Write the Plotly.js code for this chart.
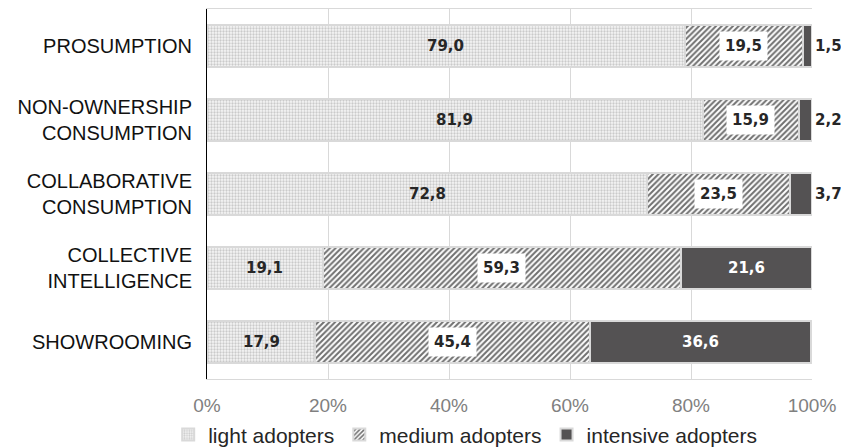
<!DOCTYPE html>
<html>
<head>
<meta charset="utf-8">
<script src="https://cdn.plot.ly/plotly-3.0.1.min.js"></script>
<style>html,body{margin:0;padding:0;background:#fff;}#chart{width:841px;height:447px;}</style>
</head>
<body>
<div id="chart"></div>
<script>
const categories = ["PROSUMPTION", "NON-OWNERSHIP<br>CONSUMPTION", "COLLABORATIVE<br>CONSUMPTION", "COLLECTIVE<br>INTELLIGENCE", "SHOWROOMING"];
const light = [79.0, 81.9, 72.8, 19.1, 17.9];
const medium = [19.5, 15.9, 23.5, 59.3, 45.4];
const intensive = [1.5, 2.2, 3.7, 21.6, 36.6];
const seriesNames = ["light adopters", "medium adopters", "intensive adopters"];
const tickVals = [0, 20, 40, 60, 80, 100];
const tickText = ["0%", "20%", "40%", "60%", "80%", "100%"];

const fmt = v => v.toFixed(1).replace(".", ",");
const border = {color: "#d9d9d9", width: 2};

const traces = [
  {
    type: "bar", orientation: "h", name: seriesNames[0],
    y: categories, x: light,
    marker: {color: "#f0f0f0", line: border,
      pattern: {shape: ".", size: 3, solidity: 0.45, fgcolor: "#cacaca", bgcolor: "#f6f6f6", fillmode: "replace"}},
    hoverinfo: "skip"
  },
  {
    type: "bar", orientation: "h", name: seriesNames[1],
    y: categories, x: medium,
    marker: {color: "#ffffff", line: border,
      pattern: {shape: "/", size: 4, solidity: 0.5, fgcolor: "#707070", bgcolor: "#ffffff", fillmode: "replace"}},
    hoverinfo: "skip"
  },
  {
    type: "bar", orientation: "h", name: seriesNames[2],
    y: categories, x: intensive,
    marker: {color: "#545253", line: border},
    hoverinfo: "skip"
  }
];

const labelFont = {family: "DejaVu Sans, Verdana, sans-serif", size: 15, color: "#262626", weight: "bold"};
const annotations = [];
categories.forEach((c, i) => {
  annotations.push({
    x: light[i] / 2, y: c, xref: "x", yref: "y", text: fmt(light[i]),
    showarrow: false, font: labelFont
  });
  annotations.push({
    x: light[i] + medium[i] / 2, y: c, xref: "x", yref: "y", text: fmt(medium[i]),
    showarrow: false, font: labelFont, bgcolor: "#ffffff", borderpad: 5
  });
  const end = Math.min(100, light[i] + medium[i] + intensive[i]);
  if (intensive[i] > 10) {
    annotations.push({
      x: light[i] + medium[i] + intensive[i] / 2, y: c, xref: "x", yref: "y", text: fmt(intensive[i]),
      showarrow: false, font: Object.assign({}, labelFont, {color: "#ffffff"})
    });
  } else {
    annotations.push({
      x: end, y: c, xref: "x", yref: "y", text: fmt(intensive[i]),
      showarrow: false, xanchor: "left", xshift: 1, font: labelFont
    });
  }
});

const layout = {
  width: 841, height: 447,
  margin: {l: 207, r: 29, t: 9, b: 68},
  paper_bgcolor: "#ffffff", plot_bgcolor: "#ffffff",
  barmode: "stack", bargap: 0.42,
  font: {family: "Liberation Sans, Arial, sans-serif"},
  xaxis: {
    range: [0, 100], tickvals: tickVals, ticktext: tickText,
    showgrid: true, gridcolor: "#d9d9d9", gridwidth: 1,
    showline: true, linecolor: "#d9d9d9", linewidth: 1, mirror: true,
    zeroline: false, ticks: "", fixedrange: true, ticklabelstandoff: 9,
    tickfont: {family: "Liberation Sans, Arial, sans-serif", size: 19, color: "#808080"}
  },
  yaxis: {
    type: "category", categoryorder: "array", categoryarray: categories,
    autorange: "reversed",
    showline: true, linecolor: "#000000", linewidth: 1, mirror: false,
    showgrid: false, zeroline: false, ticks: "", ticklabelstandoff: 10,
    tickfont: {family: "Liberation Sans, Arial, sans-serif", size: 20, color: "#111111"}
  },
  legend: {
    orientation: "h", xref: "container", yref: "container",
    x: 0.2, xanchor: "left", y: 0.027, yanchor: "middle",
    font: {family: "Liberation Sans, Arial, sans-serif", size: 21, color: "#262626"},
    itemwidth: 30, traceorder: "normal"
  },
  showlegend: true,
  annotations: annotations
};

Plotly.newPlot("chart", traces, layout, {displayModeBar: false, staticPlot: true});
</script>
</body>
</html>
